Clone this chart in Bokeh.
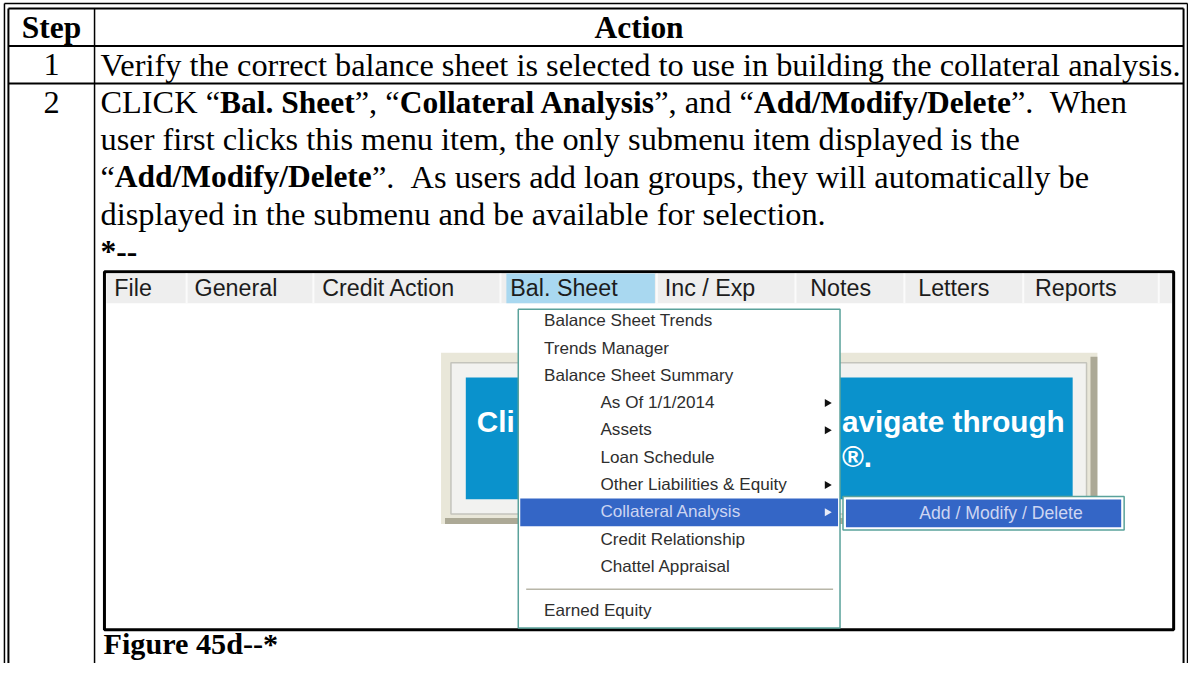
import os, re, math
from bokeh.plotting import figure
from bokeh.models import Range1d
from bokeh.core.properties import value
from bokeh.embed import file_html
from bokeh.resources import INLINE

# ---------------- content ----------------
HEADER = ["Step", "Action"]
STEP_NUMBERS = ["1", "2"]
STEP1_TEXT = "Verify the correct balance sheet is selected to use in building the collateral analysis."
STEP2_LINES = [
    [("CLICK \u201c", False), ("Bal. Sheet", True), ("\u201d, \u201c", False), ("Collateral Analysis", True),
     ("\u201d, and \u201c", False), ("Add/Modify/Delete", True), ("\u201d.  When", False)],
    [("user first clicks this menu item, the only submenu item displayed is the", False)],
    [("\u201c", False), ("Add/Modify/Delete", True), ("\u201d.  As users add loan groups, they will automatically be", False)],
    [("displayed in the submenu and be available for selection.", False)],
    [("*--", True)],
]
CAPTION = "Figure 45d--*"
MENU_BAR = ["File", "General", "Credit Action", "Bal. Sheet", "Inc / Exp", "Notes", "Letters", "Reports"]
ACTIVE_MENU = "Bal. Sheet"
DROPDOWN = ["Balance Sheet Trends", "Trends Manager", "Balance Sheet Summary", "As Of 1/1/2014", "Assets",
            "Loan Schedule", "Other Liabilities & Equity", "Collateral Analysis", "Credit Relationship",
            "Chattel Appraisal", "Earned Equity"]
DROPDOWN_LEVEL = [0, 0, 0, 1, 1, 1, 1, 1, 1, 1, 0]
DROPDOWN_ARROW = [False, False, False, True, True, False, True, True, False, False, False]
SEPARATOR_BEFORE = "Earned Equity"
ACTIVE_ITEM = "Collateral Analysis"
SUBMENU = ["Add / Modify / Delete"]
BANNER_FRAGMENTS = ["Cli", "avigate through", "\u00ae."]

# ---------------- layout constants ----------------
MENU_TEXT_X = [117, 198, 327, 517, 673, 820, 929, 1047]
MENU_SEPS = [190, 318, 507, 665, 805, 915, 1035, 1172]

# ---------------- font measuring ----------------
def find_font(fname):
    for root in ["/usr/share/fonts", "/usr/local/share/fonts", os.path.expanduser("~/.fonts")]:
        for dp, _, files in os.walk(root):
            if fname in files:
                return os.path.join(dp, fname)
    return None

_fonts = {}
try:
    from PIL import ImageFont
    for key, fn in [("serif", "LiberationSerif-Regular.ttf"), ("serifb", "LiberationSerif-Bold.ttf")]:
        path = find_font(fn)
        if path:
            _fonts[key] = ImageFont.truetype(path, 100)
except Exception:
    pass

def measure(text, key, size):
    f = _fonts.get(key)
    if f is not None:
        try:
            return f.getlength(text) * size / 100.0
        except Exception:
            pass
    return len(text) * 0.45 * size

# ---------------- figure ----------------
X0, X1, Y0, Y1 = 2, 1202, 6, 676
W, H = 1188, 663
S = W / (X1 - X0)
SHIFT = 0.37   # baseline correction (fraction of font size)

p = figure(width=W, height=H, x_range=Range1d(X0, X1), y_range=Range1d(Y1, Y0),
           output_backend="svg", toolbar_location=None, min_border=0)
p.axis.visible = False
p.grid.visible = False
p.outline_line_color = None
p.background_fill_color = "white"
p.border_fill_color = "white"

def fs(sz):
    return "%.2fpx" % (sz * S)

def draw_text(xs, ys, texts, family, size, bold=False, color="black", align="left"):
    p.text(x=xs, y=[y - SHIFT * size for y in ys], text=texts, text_font=value(family),
           text_font_size=fs(size), text_font_style="bold" if bold else "normal",
           text_color=color, text_align=align, text_baseline="alphabetic")

# ---------------- table ----------------
L_OUT, L_IN, R_IN, R_OUT = 6, 10, 1197, 1201
T_OUT, T_IN = 9, 14
COL = 97
ROW_LINES = [52, 90]
BOTTOM = 680

p.segment(x0=[L_OUT], y0=[T_OUT], x1=[R_OUT], y1=[T_OUT], line_color="black", line_width=1.5)
p.segment(x0=[L_IN], y0=[T_IN], x1=[R_IN], y1=[T_IN], line_color="black", line_width=2)
p.segment(x0=[L_OUT, R_OUT], y0=[T_OUT, T_OUT], x1=[L_OUT, R_OUT], y1=[BOTTOM, BOTTOM], line_color="black", line_width=1.5)
p.segment(x0=[L_IN, R_IN], y0=[T_IN, T_IN], x1=[L_IN, R_IN], y1=[BOTTOM, BOTTOM], line_color="black", line_width=2)
p.segment(x0=[COL], y0=[T_IN], x1=[COL], y1=[BOTTOM], line_color="black", line_width=1.5)
p.segment(x0=[L_IN] * len(ROW_LINES), y0=ROW_LINES, x1=[R_IN] * len(ROW_LINES), y1=ROW_LINES,
          line_color="black", line_width=2)

BODY = 32.7
BOLD = 31.8
TX = 103
HEAD_BASE = 45
ROW1_BASE = 83
ROW2_BASE = 121
LINE_STEP = 37.5

draw_text([(L_IN + COL) / 2, (COL + R_IN) / 2], [HEAD_BASE, HEAD_BASE], HEADER, "Liberation Serif", BOLD, bold=True, align="center")
draw_text([(L_IN + COL) / 2] * 2, [ROW1_BASE, ROW2_BASE], STEP_NUMBERS, "Liberation Serif", BODY, align="center")
draw_text([TX], [ROW1_BASE], [STEP1_TEXT], "Liberation Serif", BODY)

reg = {"x": [], "y": [], "t": []}
bld = {"x": [], "y": [], "t": []}
for i, segs in enumerate(STEP2_LINES):
    x = TX
    y = ROW2_BASE + i * LINE_STEP
    for txt, bold in segs:
        key = "serifb" if bold else "serif"
        size = BOLD if bold else BODY
        for piece in re.split(r"(\s{2,})", txt):
            if not piece:
                continue
            if piece.strip() == "":
                x += measure(piece, key, size)
                continue
            lead = len(piece) - len(piece.lstrip(" "))
            if lead:
                x += measure(" " * lead, key, size)
                piece = piece[lead:]
            d = bld if bold else reg
            d["x"].append(x); d["y"].append(y); d["t"].append(piece)
            x += measure(piece, key, size)
draw_text(reg["x"], reg["y"], reg["t"], "Liberation Serif", BODY)
draw_text(bld["x"], bld["y"], bld["t"], "Liberation Serif", BOLD, bold=True)

draw_text([106], [668], [CAPTION], "Liberation Serif", 30.5, bold=True)

# ---------------- screenshot ----------------
SL, ST, SR, SB = 107, 280, 1187, 642
p.quad(left=[SL], right=[SR], top=[ST], bottom=[SB], fill_color="white", line_color="black", line_width=3)

# menu bar
BAR_T, BAR_B = 282, 312
p.quad(left=[SL + 2], right=[SR - 2], top=[BAR_T], bottom=[BAR_B], fill_color="#eeeeee", line_color=None)
ai = MENU_BAR.index(ACTIVE_MENU)
p.quad(left=[MENU_SEPS[ai - 1] + 6], right=[MENU_SEPS[ai] - 2], top=[BAR_T], bottom=[BAR_B],
       fill_color="#a9d8f0", line_color=None)
p.segment(x0=MENU_SEPS, y0=[BAR_T] * len(MENU_SEPS), x1=MENU_SEPS, y1=[BAR_B] * len(MENU_SEPS),
          line_color="#fbfbfb", line_width=2)
MENU_SIZE = 23.5
draw_text(MENU_TEXT_X, [305] * len(MENU_BAR), MENU_BAR, "Liberation Sans", MENU_SIZE, color="#1c1c1c")

# banner behind the menu
p.quad(left=[447], right=[1110], top=[362], bottom=[535], fill_color="#e9e7d9", line_color=None)
p.quad(left=[1103], right=[1110], top=[366], bottom=[535], fill_color="#aca996", line_color=None)
p.quad(left=[451], right=[1110], top=[529], bottom=[535], fill_color="#aca996", line_color=None)
p.quad(left=[457], right=[1099], top=[372], bottom=[525], fill_color="#f2f2f0", line_color="#c4c4bc", line_width=1.5)
p.quad(left=[472], right=[1085], top=[387], bottom=[510], fill_color="#0a92cc", line_color=None)
draw_text([483, 852, 852], [443, 443, 478], BANNER_FRAGMENTS, "Liberation Sans", 30, bold=True, color="white")

# dropdown
DL, DR, DT, DB = 525, 850, 318, 640
p.quad(left=[DL], right=[DR], top=[DT], bottom=[DB], fill_color="white", line_color="#5aa29b", line_width=1.5)
ITEM_SIZE = 17.3
FIRST_C, ITEM_STEP = 330, 27.6
centers = []
for i, it in enumerate(DROPDOWN):
    centers.append(623 if it == SEPARATOR_BEFORE else FIRST_C + i * ITEM_STEP)
k = DROPDOWN.index(ACTIVE_ITEM)
p.quad(left=[DL + 2], right=[DR - 2], top=[centers[k] - 14], bottom=[centers[k] + 14], fill_color="#3466c6", line_color=None)
p.segment(x0=[533], y0=[601], x1=[843], y1=[601], line_color="#b8b6a8", line_width=1.5)
norm = {"x": [], "y": [], "t": []}
for i, it in enumerate(DROPDOWN):
    if it == ACTIVE_ITEM:
        continue
    norm["x"].append(551 if DROPDOWN_LEVEL[i] == 0 else 608)
    norm["y"].append(centers[i] + 6)
    norm["t"].append(it)
draw_text(norm["x"], norm["y"], norm["t"], "Liberation Sans", ITEM_SIZE, color="#2e2e2e")
draw_text([551 if DROPDOWN_LEVEL[k] == 0 else 608], [centers[k] + 6], [ACTIVE_ITEM], "Liberation Sans", ITEM_SIZE, color="#cdd5f2")
arrow_y = [centers[i] for i in range(len(DROPDOWN)) if DROPDOWN_ARROW[i] and i != k]
p.scatter(x=[837] * len(arrow_y), y=arrow_y, marker="triangle", size=8, angle=-math.pi / 2,
          fill_color="#111111", line_color=None)
p.scatter(x=[837], y=[centers[k]], marker="triangle", size=8, angle=-math.pi / 2,
          fill_color="#e8ecf8", line_color=None)

# submenu
SBL, SBR = 853, 1137
p.quad(left=[SBL], right=[SBR], top=[centers[k] - 16], bottom=[centers[k] + 18], fill_color="white", line_color="#5aa29b", line_width=1.5)
p.quad(left=[SBL + 3], right=[SBR - 3], top=[centers[k] - 13], bottom=[centers[k] + 15], fill_color="#3466c6", line_color=None)
draw_text([930], [centers[k] + 7], SUBMENU, "Liberation Sans", 17.8, color="#cdd5f2")

open("out.html", "w").write(file_html(p, INLINE))
